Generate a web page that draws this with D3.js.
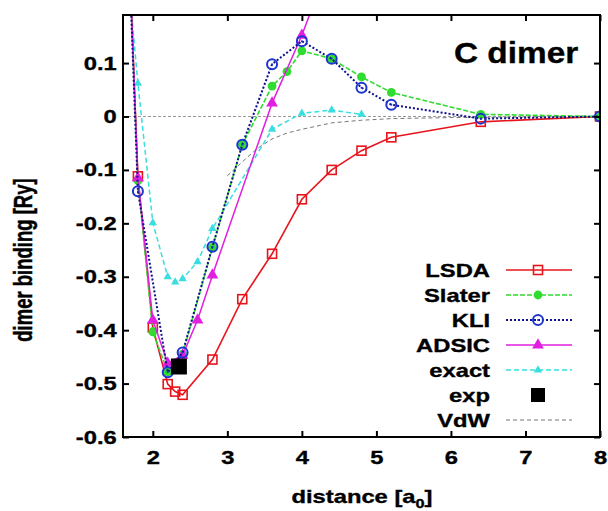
<!DOCTYPE html>
<html>
<head>
<meta charset="utf-8">
<script src="https://cdn.jsdelivr.net/npm/d3@7"></script>
<style>
  body { margin: 0; background: #fff; }
  text { font-family: "Liberation Sans", Arial, sans-serif; font-weight: bold; stroke: #000; stroke-width: 0.35px; }
</style>
</head>
<body>
<div id="chart"></div>
<script>
// values (distance in a0, binding in Ry)
var lsdaX = [1.6, 1.8, 2.0, 2.2, 2.3, 2.4, 2.8, 3.2, 3.6, 4.0, 4.4, 4.8, 5.2, 6.4, 8.0];
var lsdaY = [0.6, -0.112, -0.395, -0.501, -0.515, -0.521, -0.455, -0.342, -0.257, -0.155, -0.100, -0.064, -0.039, -0.010, 0];

var slaterX = [1.6, 1.8, 2.0, 2.2, 2.4, 2.8, 3.2, 3.6, 3.8, 4.0, 4.4, 4.8, 5.2, 6.4, 8.0];
var slaterY = [0.6, -0.12, -0.403, -0.478, -0.445, -0.245, -0.053, 0.057, 0.084, 0.123, 0.108, 0.074, 0.045, 0.004, 0];

var kliX = [1.6, 1.8, 2.2, 2.4, 2.8, 3.2, 3.6, 4.0, 4.4, 4.8, 5.2, 6.4, 8.0];
var kliY = [0.6, -0.140, -0.479, -0.442, -0.244, -0.053, 0.098, 0.141, 0.108, 0.054, 0.022, -0.004, 0];

var adsicX = [1.6, 1.8, 2.0, 2.2, 2.4, 2.6, 2.8, 3.6, 4.0, 4.4];
var adsicY = [0.6, -0.115, -0.381, -0.462, -0.447, -0.381, -0.297, 0.025, 0.152, 0.30];

var exactX = [1.6, 1.8, 2.0, 2.2, 2.3, 2.4, 2.6, 2.8, 3.6, 4.0, 4.4, 4.8];
var exactY = [0.37, 0.062, -0.199, -0.300, -0.310, -0.304, -0.272, -0.210, -0.024, 0.006, 0.012, 0.004];

var expX = [2.35];
var expY = [-0.468];

var vdwX = [3.0, 3.2, 3.4, 3.6, 3.8, 4.0, 4.4, 4.8, 5.2, 6.0, 7.0, 8.0];
var vdwY = [-0.111, -0.085, -0.06, -0.042, -0.031, -0.024, -0.012, -0.007, -0.004, -0.002, -0.001, 0];

var xTicks = [2, 3, 4, 5, 6, 7, 8];
var yTicks = [-0.6, -0.5, -0.4, -0.3, -0.2, -0.1, 0, 0.1];
var legendNames = ["LSDA", "Slater", "KLI", "ADSIC", "exact", "exp", "VdW"];

function pts(xs, ys) { return xs.map(function(x, i) { return {x: x, y: ys[i]}; }); }

var margin = {top: 15, right: 8, bottom: 74, left: 123},
    width = 608 - margin.left - margin.right,
    height = 511 - margin.top - margin.bottom;
var sx = 1.25; // text in the picture is a bit stretched sideways

var svg = d3.select("#chart")
  .append("svg")
    .attr("width", 608)
    .attr("height", 511)
  .append("g")
    .attr("transform", "translate(" + margin.left + "," + margin.top + ")");

var x = d3.scaleLinear().domain([1.6, 8]).range([0, width]);
var y = d3.scaleLinear().domain([-0.6, 0.19]).range([height, 0]);

svg.append("clipPath").attr("id", "clip")
  .append("rect").attr("width", width).attr("height", height);

// zero line
svg.append("line")
  .attr("x1", 0).attr("x2", width)
  .attr("y1", y(0)).attr("y2", y(0))
  .attr("stroke", "#999").attr("stroke-width", 1).attr("stroke-dasharray", "3,2");

var series = [
  {name: "LSDA", data: pts(lsdaX, lsdaY), color: "#e8141c", dash: null, w: 1.6, marker: "sqOpen"},
  {name: "Slater", data: pts(slaterX, slaterY), color: "#2fdc2f", dash: "5,2", w: 1.6, marker: "circFill"},
  {name: "KLI", data: pts(kliX, kliY), color: "#10108f", dash: "2,2", w: 2, marker: "circOpen", mcolor: "#1c34d0"},
  {name: "ADSIC", data: pts(adsicX, adsicY), color: "#e01fe0", dash: null, w: 1.5, marker: "triFill"},
  {name: "exact", data: pts(exactX, exactY), color: "#3adede", dash: "5,3", w: 1.5, marker: "triSmall"},
  {name: "exp", data: pts(expX, expY), color: "#000", dash: null, w: 0, marker: "sqBig"},
  {name: "VdW", data: pts(vdwX, vdwY), color: "#777", dash: "4,3", w: 1, marker: null}
];

var line = d3.line().x(function(d) { return x(d.x); }).y(function(d) { return y(d.y); });

var plot = svg.append("g").attr("clip-path", "url(#clip)");

function drawMarker(g, kind, cx, cy, color) {
  if (kind === "sqOpen") {
    g.append("rect").attr("x", cx - 4.5).attr("y", cy - 4.5).attr("width", 9).attr("height", 9)
      .attr("fill", "none").attr("stroke", color).attr("stroke-width", 1.6);
  } else if (kind === "circFill") {
    g.append("circle").attr("cx", cx).attr("cy", cy).attr("r", 4.4).attr("fill", color);
  } else if (kind === "circOpen") {
    g.append("circle").attr("cx", cx).attr("cy", cy).attr("r", 5).attr("fill", "none")
      .attr("stroke", color).attr("stroke-width", 2);
    g.append("circle").attr("cx", cx).attr("cy", cy).attr("r", 1).attr("fill", color);
  } else if (kind === "triFill") {
    g.append("path").attr("d", d3.symbol(d3.symbolTriangle, 60)()).attr("transform", "translate(" + cx + "," + cy + ")")
      .attr("fill", color);
  } else if (kind === "triSmall") {
    g.append("path").attr("d", d3.symbol(d3.symbolTriangle, 30)()).attr("transform", "translate(" + cx + "," + cy + ")")
      .attr("fill", color);
  } else if (kind === "sqBig") {
    g.append("rect").attr("x", cx - 8).attr("y", cy - 8).attr("width", 16).attr("height", 16).attr("fill", color);
  }
}

// draw back to front like the picture
[6, 4, 0, 1, 3, 2, 5].forEach(function(i) {
  var s = series[i];
  if (s.w > 0) {
    plot.append("path")
      .datum(s.data)
      .attr("d", line)
      .attr("fill", "none")
      .attr("stroke", s.color)
      .attr("stroke-width", s.w)
      .attr("stroke-dasharray", s.dash);
  }
  if (s.marker) {
    s.data.forEach(function(d) {
      drawMarker(plot, s.marker, x(d.x), y(d.y), s.mcolor || s.color);
    });
  }
});

// axes with inward ticks on all four sides
function styleAxis(g) {
  g.select(".domain").remove();
  g.selectAll(".tick line").attr("stroke", "#000").attr("stroke-width", 2);
}
svg.append("g").attr("transform", "translate(0," + height + ")")
  .call(d3.axisBottom(x).tickValues(xTicks).tickSizeInner(-6).tickPadding(14).tickFormat(d3.format("d")))
  .call(styleAxis)
  .selectAll("text")
    .attr("font-size", 19).attr("fill", "#000")
    .attr("transform", "scale(" + sx + ",1)");
svg.append("g")
  .call(d3.axisTop(x).tickValues(xTicks).tickSizeInner(-6).tickFormat(""))
  .call(styleAxis);
svg.append("g")
  .call(d3.axisLeft(y).tickValues(yTicks).tickSizeInner(-6).tickPadding(5)
    .tickFormat(function(d) { return Math.abs(d) < 1e-9 ? "0" : d.toFixed(1); }))
  .call(styleAxis)
  .selectAll("text")
    .attr("font-size", 19).attr("fill", "#000")
    .attr("transform", "scale(" + sx + ",1)");
svg.append("g").attr("transform", "translate(" + width + ",0)")
  .call(d3.axisRight(y).tickValues(yTicks).tickSizeInner(-6).tickFormat(""))
  .call(styleAxis);

// frame
svg.append("rect").attr("width", width).attr("height", height)
  .attr("fill", "none").attr("stroke", "#000").attr("stroke-width", 2);

// title inside the plot
svg.append("text")
  .attr("transform", "translate(" + (454 - margin.left) + "," + (63 - margin.top) + ") scale(1.15,1)")
  .attr("font-size", 29)
  .text("C dimer");

// axis labels
var xl = svg.append("text")
  .attr("transform", "translate(" + (362 - margin.left) + "," + (503 - margin.top) + ") scale(" + sx + ",1)")
  .attr("text-anchor", "middle").attr("font-size", 19);
xl.append("tspan").text("distance [a");
xl.append("tspan").attr("font-size", 13).attr("dy", 5).text("0");
xl.append("tspan").attr("dy", -5).text("]");

svg.append("text")
  .attr("transform", "translate(" + (32 - margin.left) + "," + (260 - margin.top) + ") scale(1.35,1) rotate(-90)")
  .attr("text-anchor", "middle").attr("font-size", 18.5)
  .text("dimer binding [Ry]");

// legend
var leg = svg.append("g");
series.forEach(function(s, i) {
  var cy = 270 + i * 25 - margin.top;
  leg.append("text")
    .attr("transform", "translate(" + (490 - margin.left) + "," + (cy + 7) + ") scale(" + sx + ",1)")
    .attr("text-anchor", "end").attr("font-size", 19)
    .text(legendNames[i]);
  if (s.w > 0) {
    leg.append("line")
      .attr("x1", 506 - margin.left).attr("x2", 572 - margin.left)
      .attr("y1", cy).attr("y2", cy)
      .attr("stroke", s.color).attr("stroke-width", s.w).attr("stroke-dasharray", s.dash);
  }
  if (s.marker === "sqBig") {
    leg.append("rect").attr("x", 538 - margin.left - 7).attr("y", cy - 7).attr("width", 14).attr("height", 14).attr("fill", "#000");
  } else if (s.marker) {
    drawMarker(leg, s.marker, 538 - margin.left, cy, s.mcolor || s.color);
  }
});
</script>
</body>
</html>
